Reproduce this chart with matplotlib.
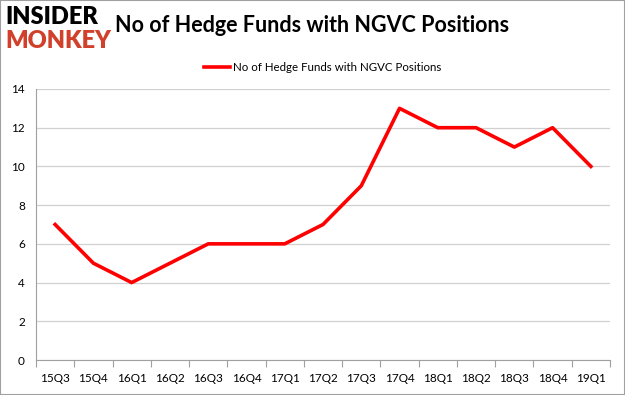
import numpy as np
import matplotlib.pyplot as plt

quarters = ['15Q3', '15Q4', '16Q1', '16Q2', '16Q3', '16Q4', '17Q1', '17Q2',
            '17Q3', '17Q4', '18Q1', '18Q2', '18Q3', '18Q4', '19Q1']
funds = [7, 5, 4, 5, 6, 6, 6, 7, 9, 13, 12, 12, 11, 12, 10]
yticks = [0, 2, 4, 6, 8, 10, 12, 14]


def main():
    plt.rcParams['font.family'] = ['Lato', 'DejaVu Sans']
    fig = plt.figure(figsize=(6.25, 3.95), dpi=100, facecolor='w')
    ax = fig.add_axes([0.0576, 0.0886, 0.9184, 0.6861])

    x = np.arange(len(quarters))
    ax.plot(x, funds, color='#ff0000', linewidth=2.6,
            label='No of Hedge Funds with NGVC Positions')

    ax.set_xlim(-0.5, len(quarters) - 0.5)
    ax.set_ylim(0, 14)
    ax.set_yticks(yticks)
    ax.set_xticks(np.arange(-0.5, len(quarters), 1.0))
    ax.set_xticklabels([])
    ax.set_xticks(x, minor=True)
    ax.set_xticklabels(quarters, minor=True, fontsize=8.5)
    ax.tick_params(axis='x', which='minor', length=0, pad=9)
    ax.tick_params(axis='x', which='major', length=5, color='#a0a0a0')
    ax.tick_params(axis='y', length=0, labelsize=8.5, pad=8)

    ax.grid(axis='y', color='#d0d0d0', linewidth=0.9)
    ax.set_axisbelow(True)
    for s in ['top', 'right']:
        ax.spines[s].set_visible(False)
    ax.spines['left'].set_color('#a0a0a0')
    ax.spines['bottom'].set_color('#a0a0a0')

    ax.legend(loc='lower center', bbox_to_anchor=(0.5, 1.02), frameon=False,
              fontsize=8.3, handlelength=2.2, handletextpad=0.3)

    fig.text(0.184, 0.935, 'No of Hedge Funds with NGVC Positions',
             fontsize=15.5, fontweight='bold', va='center', ha='left')
    fig.text(0.008, 0.958, 'INSIDER', fontsize=17, fontweight='heavy',
             color='black', va='center', ha='left')
    fig.text(0.008, 0.895, 'MONKEY', fontsize=17, fontweight='heavy',
             color='#d0402a', va='center', ha='left')

    border = plt.Rectangle((0, 0), 1, 1, transform=fig.transFigure, fill=False,
                           edgecolor='#a0a0a0', linewidth=1.5)
    fig.patches.append(border)

    fig.savefig('out.png', dpi=100, facecolor='w')
    plt.close('all')


if __name__ == '__main__':
    main()
